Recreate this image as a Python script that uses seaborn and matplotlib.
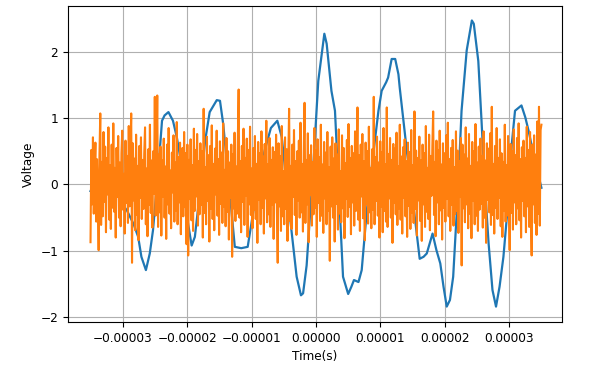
import numpy as np
import matplotlib
matplotlib.use("Agg")
import matplotlib.pyplot as plt
from matplotlib.ticker import MultipleLocator, FuncFormatter
import seaborn as sns

# signal (blue), time in microseconds
blue_t_us = [-35.0, -34.0, -33.0, -32.0, -31.0, -30.0, -29.3, -28.3, -27.6, -27.1,
             -26.4, -25.8, -25.3, -24.4, -23.9, -23.5, -22.9, -22.2, -21.6, -20.9,
             -20.1, -19.3, -18.8, -18.0, -17.2, -16.5, -15.4, -14.9, -14.4, -13.5,
             -12.6, -11.6, -10.6, -9.7, -8.0, -7.0, -6.0, -5.3, -4.2, -3.0,
             -2.33, -2.0, -1.45, -0.4, 0.36, 1.3, 1.66, 2.4, 2.95, 3.7,
             4.2, 5.0, 5.5, 5.9, 6.6, 7.1, 7.9, 8.9, 9.7, 10.2,
             10.9, 11.2, 11.75, 12.3, 12.8, 13.0, 14.1, 15.1, 16.1, 16.7,
             17.2, 18.1, 18.7, 19.3, 19.8, 20.3, 20.8, 21.3, 22.1, 22.6,
             23.4, 24.2, 24.5, 25.2, 25.7, 26.2, 26.8, 27.4, 27.95, 28.5,
             29.1, 29.9, 30.4, 30.9, 31.4, 31.9, 32.5, 33.0, 34.0, 35.0]
blue_v = [-0.10, 0.10, 0.25, 0.20, 0.00, -0.30, -0.40, -0.60, -0.79, -1.09,
          -1.29, -1.04, -0.69, 0.31, 0.96, 1.04, 1.09, 0.96, 0.71, 0.31,
          -0.44, -0.92, -0.79, -0.10, 0.66, 1.09, 1.27, 1.26, 0.91, 0.00,
          -0.94, -0.96, -0.94, -0.39, 0.50, 0.85, 0.96, 0.71, -0.35, -1.39,
          -1.67, -1.64, -1.22, 0.30, 1.56, 2.27, 2.12, 1.41, 1.11, -0.39,
          -1.39, -1.65, -1.54, -1.44, -1.47, -1.29, -0.39, 0.46, 1.11, 1.41,
          1.54, 1.61, 1.89, 1.89, 1.66, 1.46, 0.51, -0.29, -1.12, -1.09,
          -1.04, -0.74, -0.99, -1.19, -1.54, -1.84, -1.74, -1.39, 0.01, 1.11,
          2.02, 2.47, 2.42, 1.86, 0.96, 0.01, -0.89, -1.59, -1.84, -1.54,
          -1.09, -0.19, 0.61, 1.11, 1.15, 1.19, 1.01, 0.81, 0.35, -0.05]

# noise (orange) - evenly sampled from -35us to 35us
noise_t_start_us = -35.0
noise_t_stop_us = 35.0
noise_v = [
    -0.87, 0.52, -0.3, 0.71, -0.44, 0.2, 0.63, -0.56, 0.38, -0.22, -0.99, 0.45, 1.07, -0.61, 0.34,
    -0.48, 0.79, -0.26, 0.57, -0.72, 0.4, -0.15, 0.86, -0.53, 0.29, -0.67, 0.6, -0.35, 0.92, -0.41,
    0.25, -0.8, 0.55, -0.19, 0.73, -0.5, 0.33, -0.63, 0.47, 0.81, -0.38, 0.16, -0.74, 0.66, -0.28,
    0.43, -0.58, 0.88, -0.33, 0.51, 1.07, -1.18, 0.62, -0.24, 0.39, -0.69, 0.75, -0.46, 0.28, -0.84,
    0.58, -0.2, 0.71, -0.52, 0.37, -0.37, 0.46, 0.86, -0.6, 0.24, -0.78, 0.53, -0.31, 0.9, -0.43,
    0.36, -0.65, 0.5, -0.14, 1.32, -0.47, 0.3, 1.34, -0.64, 0.45, -0.42, 0.57, -0.77, 0.36, -0.18,
    0.69, -0.5, 0.27, -0.82, 0.6, -0.3, 0.85, -0.44, 0.21, -0.66, 0.48, -0.12, 0.74, -0.56, 0.33,
    -0.39, 0.94, -0.6, 0.41, -0.27, 0.63, -0.75, 0.2, 0.55, -0.48, 0.79, -0.34, 0.47, -0.9, 0.6,
    -1.07, 0.37, -0.22, 0.68, -0.54, 0.29, -0.7, 0.84, -0.4, 0.52, -0.18, 0.76, -0.62, 0.35, -0.45,
    0.62, -0.31, 0.5, -0.8, 1.14, -0.43, 0.26, -0.6, 0.72, -0.25, 0.44, -0.86, 0.58, -0.37, 0.89,
    -0.52, 0.31, -0.69, 0.54, -0.15, 0.81, -0.47, 0.38, -0.76, 0.65, -0.29, 0.48, -0.58, 0.92, -0.34,
    0.22, -0.63, 0.7, -0.41, 0.5, -0.83, 0.33, -0.2, 0.6, -1.09, 0.46, -0.36, 0.78, -0.55, 0.27,
    -0.44, 0.67, 1.43, -0.5, 0.35, -0.72, 0.58, -0.26, 0.84, -0.61, 0.4, -0.17, 0.69, -0.79, 0.52,
    -0.3, 0.87, -0.46, 0.24, -0.66, 0.55, -0.38, 0.73, -0.52, 0.31, -0.88, 0.64, -0.23, 0.47, -0.6,
    0.8, -0.35, 0.42, -0.74, 0.61, -0.21, 0.96, -0.57, 0.3, -0.45, 0.7, -0.64, 0.37, -0.3, 0.56,
    -0.82, 0.49, -0.27, 0.75, -0.4, -1.18, 0.62, -0.33, 0.43, -0.7, 0.88, -0.48, 0.2, -0.6, 0.71,
    -0.37, 0.53, -0.85, 0.39, 1.14, -0.55, 0.28, -0.67, 0.6, -0.19, 0.82, -0.46, 0.35, -0.76, 0.5,
    -0.24, 0.66, -0.5, 0.93, -0.42, 0.31, -0.71, 0.48, 1.23, -0.58, 0.37, -0.3, 0.77, -0.87, 0.44,
    -0.16, 0.59, -0.62, 0.34, -0.45, 0.85, -0.35, 0.52, -0.79, 0.68, -0.28, 0.41, -0.55, 0.9, -0.47,
    0.3, -0.73, 0.64, -0.21, 0.48, -0.6, 0.79, -0.4, 0.26, -1.15, 0.57, -0.33, 0.71, -0.5, 0.39,
    -0.86, 0.62, -0.29, 0.45, -0.68, 0.83, -0.44, 0.2, -0.57, 0.74, -0.36, 0.55, -0.81, 0.32, -0.22,
    0.67, -0.49, 0.91, -0.34, 0.4, -0.75, 0.58, -0.27, 0.47, -0.62, 0.8, -0.4, 0.29, 1.16, -0.53,
    0.44, -0.7, 0.6, -0.18, 0.76, -0.51, 0.35, -0.84, 0.63, -0.3, 0.5, -0.59, 0.87, -0.42, 0.25,
    -0.66, 0.53, -0.38, 1.32, -0.6, 0.41, -0.25, 0.72, -0.47, 0.33, -0.8, 0.65, -0.34, 0.49, -0.72,
    0.85, -0.4, 0.3, -0.56, 1.16, -0.64, 0.46, -0.21, 0.7, -0.5, 0.37, -0.88, 0.61, -0.28, 0.54,
    -0.45, 0.78, -0.61, 0.27, -0.36, 0.9, -0.53, 0.42, -0.74, 0.56, -0.2, 0.68, -0.48, 0.35, -0.79,
    0.63, -0.32, 0.49, -0.67, 0.82, -0.43, 0.29, -0.58, 1.1, -0.37, 0.51, -0.77, 0.4, -0.24, 0.72,
    -0.55, 0.36, -0.85, 0.6, -0.3, 0.47, -0.64, 0.88, -0.41, 0.25, -0.52, 0.75, -0.69, 0.43, -0.17,
    0.58, 1.1, -0.46, 0.34, -0.78, 0.66, -0.27, 0.52, -0.6, 0.81, -0.39, 0.3, -0.83, 0.62, -0.35,
    0.47, -0.56, 0.74, -0.22, 0.93, -0.48, 0.38, -0.7, 0.55, -0.31, 0.67, -0.62, 0.26, -0.45, 0.8,
    -0.4, 0.51, -0.73, 0.35, -0.19, 0.7, -1.22, 0.6, -0.36, 0.45, -0.57, 0.86, -0.3, 0.39, -0.66,
    0.76, -0.44, 0.28, -0.81, 0.64, -0.25, 0.5, -0.6, 0.91, -0.47, 0.33, -0.7, 0.57, -0.38, 0.69,
    -0.29, 0.43, -0.65, 0.8, -0.5, 0.36, -0.88, 0.62, -0.23, 0.54, -0.42, 0.77, -0.61, 1.17, -0.46,
    0.31, -0.74, 0.58, -0.35, 0.85, -0.52, 0.4, -0.2, 0.68, -0.63, 0.47, -0.79, 0.34, -0.4, 0.9,
    -0.56, 0.29, -0.47, 0.73, -0.31, -0.99, 0.61, -0.43, 0.5, -0.68, 0.83, -0.27, 0.44, -0.6, 0.7,
    -0.36, 0.92, -0.54, 0.38, -0.8, 0.56, -0.25, 0.66, -0.48, 0.4, -0.72, 0.87, -0.33, 0.52, -0.64,
    0.79, -0.41, -1.07, 0.6, -0.3, 0.74, -0.58, 0.45, -0.76, 0.95, -0.44, 1.17, -0.62, 0.82, 0.9,
]

blue_t = np.array(blue_t_us) * 1e-6
noise_t = np.linspace(noise_t_start_us, noise_t_stop_us, len(noise_v)) * 1e-6

FS = 8.7

fig = plt.figure(figsize=(5.91, 3.67), dpi=100)
ax = fig.add_axes([0.115, 0.123, 0.836, 0.861])

sns.lineplot(x=blue_t, y=blue_v, ax=ax, color='#1f77b4', linewidth=1.6, sort=False)
sns.lineplot(x=noise_t, y=noise_v, ax=ax, color='#ff7f0e', linewidth=1.5, sort=False)

ax.grid(True, color='#b0b0b0', linewidth=0.8)
ax.set_axisbelow(True)
ax.set_xlim(-3.85e-5, 3.82e-5)
ax.set_ylim(-2.07, 2.69)

ax.xaxis.set_major_locator(MultipleLocator(1e-5))
ax.yaxis.set_major_locator(MultipleLocator(1))
ax.xaxis.set_major_formatter(FuncFormatter(lambda v, p: f"{v:.5f}".replace('-', '\u2212') if abs(v) > 1e-12 else "0.00000"))
ax.tick_params(labelsize=FS)

ax.set_xlabel('Time(s)', fontsize=FS)
ax.set_ylabel('Voltage', fontsize=FS)

fig.savefig('out.png', dpi=100)
